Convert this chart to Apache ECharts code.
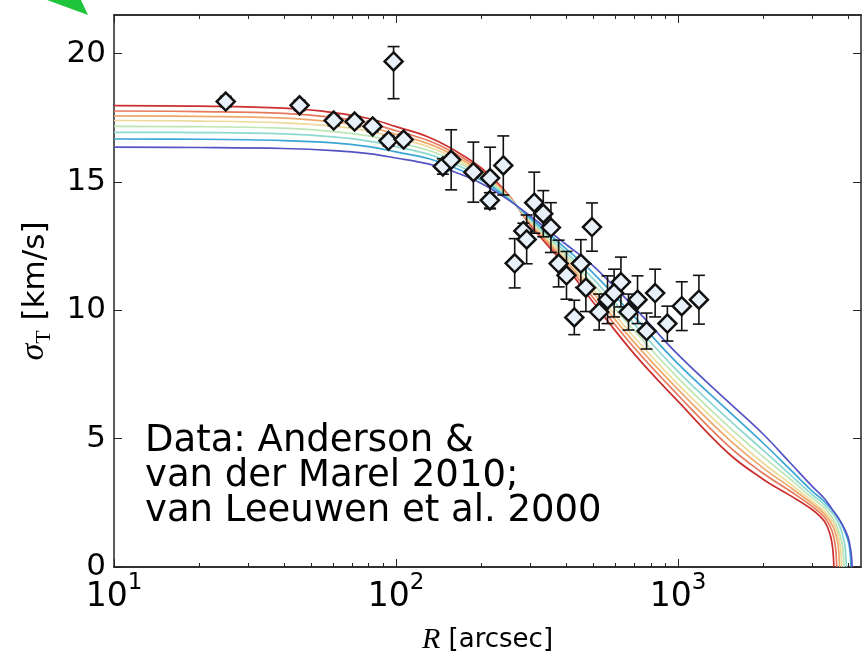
<!DOCTYPE html>
<html>
<head>
<meta charset="utf-8">
<script src="https://cdn.jsdelivr.net/npm/echarts@6/dist/echarts.min.js"></script>
<style>html,body{margin:0;padding:0;background:#fff;}#c{width:865px;height:661px;}</style>
</head>
<body>
<div id="c"></div>
<script>
// ---- tick values / labels ----
const xMin = 10, xMax = 4450;
const yMin = 0, yMax = 21.5;
const xTicks = [10, 100, 1000];
const xTickExp = ['1', '2', '3'];
const xMinorTicks = [20,30,40,50,60,70,80,90,200,300,400,500,600,700,800,900,2000,3000,4000];
const yTicks = [0, 5, 10, 15, 20];

// ---- data points ----
const ptR = [24.9, 45.5, 60.1, 71.3, 82.6, 94, 106.4, 98, 146.5, 156.8, 188, 215.5, 215, 240, 263.4, 282.6, 290.4, 309, 332.6, 354, 377, 402, 428.5, 452, 471, 495, 525, 562, 593, 627, 667, 718, 773, 829, 916, 1030, 1185];
const ptSigma = [18.13, 17.98, 17.39, 17.35, 17.16, 16.6, 16.65, 19.69, 15.6, 15.86, 15.38, 15.15, 14.28, 15.64, 11.83, 13.09, 12.76, 14.19, 13.76, 13.22, 11.82, 11.36, 9.72, 11.82, 10.88, 13.24, 9.93, 10.41, 10.67, 11.1, 9.93, 10.41, 9.19, 10.67, 9.48, 10.16, 10.41];
const ptErrDown = [0.2, 0.2, 0.2, 0.2, 0.2, 0.2, 0.2, 1.45, 0.3, 1.17, 1.17, 1.2, 0.3, 1.15, 0.96, 0.3, 0.95, 1.19, 0.9, 0.97, 0.91, 0.93, 0.67, 0.93, 0.93, 0.94, 0.7, 0.93, 0.93, 0.97, 0.7, 0.93, 0.7, 0.93, 0.68, 0.95, 0.95];
const ptErrUp = [0.2, 0.2, 0.2, 0.2, 0.2, 0.2, 0.2, 0.58, 0.3, 1.17, 1.17, 1.2, 0.3, 1.15, 0.96, 0.3, 0.95, 1.19, 0.9, 0.97, 0.91, 0.93, 0.67, 0.93, 0.93, 0.94, 0.7, 0.93, 0.93, 0.97, 0.7, 0.93, 0.7, 0.93, 0.68, 0.95, 0.95];

// ---- model curves (R, sigma) ----
const curveRed = [[10,17.97],[20,17.95],[40,17.87],[60,17.70],[80,17.47],[100,17.15],[130,16.75],[160,16.25],[200,15.55],[250,14.50],[300,13.30],[400,11.71],[500,10.31],[700,8.29],[1000,6.45],[1500,4.45],[2000,3.42],[2500,2.78],[3000,2.22],[3300,1.78],[3450,1.30],[3520,0.85],[3550,0.45],[3566,0]];
const curveSalmon = [[10,17.76],[20,17.74],[40,17.67],[60,17.51],[80,17.29],[100,16.99],[130,16.61],[160,16.14],[200,15.47],[250,14.47],[300,13.35],[400,11.82],[500,10.49],[700,8.53],[1000,6.69],[1500,4.74],[2000,3.65],[2500,2.95],[3000,2.34],[3300,1.94],[3500,1.45],[3600,0.90],[3635,0.45],[3650,0]];
const curveOrange = [[10,17.57],[20,17.55],[40,17.48],[60,17.33],[80,17.13],[100,16.85],[130,16.49],[160,16.04],[200,15.40],[250,14.45],[300,13.39],[400,11.93],[500,10.67],[700,8.74],[1000,6.91],[1500,5.01],[2000,3.86],[2500,3.10],[3000,2.45],[3300,2.07],[3550,1.55],[3680,0.95],[3720,0.45],[3736,0]];
const curveYellow = [[10,17.39],[20,17.37],[40,17.30],[60,17.17],[80,16.98],[100,16.71],[130,16.37],[160,15.94],[200,15.33],[250,14.43],[300,13.43],[400,12.02],[500,10.82],[700,8.94],[1000,7.11],[1500,5.24],[2000,4.05],[2500,3.24],[3000,2.54],[3300,2.17],[3600,1.60],[3740,0.95],[3785,0.45],[3800,0]];
const curveGreen = [[10,17.16],[20,17.15],[40,17.09],[60,16.96],[80,16.79],[100,16.54],[130,16.23],[160,15.83],[200,15.25],[250,14.40],[300,13.48],[400,12.14],[500,11.02],[700,9.20],[1000,7.36],[1500,5.50],[2000,4.30],[2500,3.42],[3000,2.67],[3300,2.30],[3600,1.75],[3800,1.00],[3855,0.45],[3870,0]];
const curveAqua = [[10,16.93],[20,16.92],[40,16.87],[60,16.75],[80,16.59],[100,16.37],[130,16.08],[160,15.71],[200,15.17],[250,14.37],[300,13.53],[400,12.26],[500,11.22],[700,9.45],[1000,7.61],[1500,5.78],[2000,4.55],[2500,3.59],[3000,2.80],[3300,2.43],[3650,1.85],[3870,1.05],[3930,0.45],[3950,0]];
const curveCyan = [[10,16.67],[20,16.66],[40,16.61],[60,16.52],[80,16.37],[100,16.17],[130,15.91],[160,15.57],[200,15.07],[250,14.34],[300,13.59],[400,12.40],[500,11.45],[700,9.74],[1000,7.91],[1500,6.10],[2000,4.83],[2500,3.79],[3000,2.94],[3300,2.55],[3700,1.90],[4000,1.05],[4080,0.45],[4100,0]];
const curvePurple = [[10,16.35],[20,16.34],[40,16.30],[60,16.22],[80,16.10],[100,15.93],[130,15.70],[160,15.40],[200,14.95],[250,14.30],[300,13.66],[400,12.57],[500,11.73],[700,10.10],[1000,8.27],[1500,6.45],[2000,5.18],[2500,4.05],[3000,3.12],[3300,2.67],[3500,2.28],[3800,1.70],[4000,1.18],[4100,0.60],[4140,0]];

const curves = [curveRed, curveSalmon, curveOrange, curveYellow, curveGreen, curveAqua, curveCyan, curvePurple];
const curveColors = ['#cc2f2f', '#e67a5e', '#efa86c', '#eed99a', '#bde6b4', '#8ed9cf', '#3ba6d6', '#5454c4'];

const chart = echarts.init(document.getElementById('c'), null, {renderer: 'canvas'});
const frame = '#262626';
const tickFont = 'DejaVu Sans';

function xAxisDef(pos, values, len, labels) {
  return {
    type: 'log', logBase: 10, min: xMin, max: xMax, position: pos, gridIndex: 0,
    axisLine: {show: true, onZero: false, lineStyle: {color: frame, width: 1.5}},
    axisTick: {show: true, inside: true, length: len, customValues: values, lineStyle: {color: frame, width: 1}},
    axisLabel: labels ? {
      show: true, customValues: xTicks, margin: 5,
      formatter: function (v) { const i = xTicks.indexOf(Math.round(v)); return '{b|10}{s|' + (i >= 0 ? xTickExp[i] : '') + '}'; },
      rich: {
        b: {fontFamily: tickFont, fontSize: 33, color: '#000', lineHeight: 42, verticalAlign: 'bottom'},
        s: {fontFamily: tickFont, fontSize: 23, color: '#000', lineHeight: 42, verticalAlign: 'top'}
      }
    } : {show: false},
    splitLine: {show: false}
  };
}
function yAxisDef(pos, labels) {
  return {
    type: 'value', min: yMin, max: yMax, position: pos,
    axisLine: {show: true, onZero: false, lineStyle: {color: frame, width: 1.5}},
    axisTick: {show: true, inside: true, length: 8, customValues: yTicks, lineStyle: {color: frame, width: 1}},
    axisLabel: labels ? {show: true, customValues: yTicks, margin: 8, fontFamily: tickFont, fontSize: 31, color: '#000'} : {show: false},
    splitLine: {show: false}
  };
}

const xA0 = xAxisDef('bottom', xTicks, 8, true);
xA0.name = '{it|R}{rm| [arcsec]}';
xA0.nameLocation = 'middle';
xA0.nameGap = 58;
xA0.nameTextStyle = {rich: {
  it: {fontFamily: 'Liberation Serif', fontStyle: 'italic', fontSize: 30, color: '#000'},
  rm: {fontFamily: tickFont, fontSize: 26, color: '#000'}
}};
const yA0 = yAxisDef('left', true);
yA0.name = '{it|σ}{sub|T}{rm| [km/s]}';
yA0.nameLocation = 'middle';
yA0.nameRotate = 90;
yA0.nameGap = 59;
yA0.nameTextStyle = {rich: {
  it: {fontFamily: 'Liberation Serif', fontStyle: 'italic', fontSize: 34, color: '#000', lineHeight: 38, verticalAlign: 'top'},
  sub: {fontFamily: 'Liberation Serif', fontSize: 22, color: '#000', lineHeight: 38, verticalAlign: 'bottom'},
  rm: {fontFamily: tickFont, fontSize: 31, color: '#000', lineHeight: 38}
}};

const series = [];
curves.forEach(function (c, i) {
  series.push({
    type: 'line', data: c, showSymbol: false, smooth: 0.4,
    lineStyle: {color: curveColors[i], width: 1.7}, z: 2, silent: true, clip: true
  });
});
series.push({
  type: 'custom', z: 3, silent: true,
  data: ptR.map(function (r, i) { return [r, ptSigma[i], ptErrUp[i], ptErrDown[i]]; }),
  renderItem: function (params, api) {
    const x = api.value(0), y = api.value(1), eu = api.value(2), ed = api.value(3);
    const p1 = api.coord([x, y + eu]);
    const p2 = api.coord([x, y - ed]);
    const cw = 6;
    const st = {stroke: '#111', lineWidth: 1.6};
    return {type: 'group', children: [
      {type: 'line', shape: {x1: p1[0], y1: p1[1], x2: p2[0], y2: p2[1]}, style: st},
      {type: 'line', shape: {x1: p1[0] - cw, y1: p1[1], x2: p1[0] + cw, y2: p1[1]}, style: st},
      {type: 'line', shape: {x1: p2[0] - cw, y1: p2[1], x2: p2[0] + cw, y2: p2[1]}, style: st}
    ]};
  }
});
series.push({
  type: 'scatter', z: 4, silent: true,
  data: ptR.map(function (r, i) { return [r, ptSigma[i]]; }),
  symbol: 'diamond', symbolSize: 18,
  itemStyle: {color: '#e8f0fa', borderColor: '#111', borderWidth: 2.5, opacity: 1}
});

chart.setOption({
  animation: false,
  backgroundColor: '#fff',
  grid: {left: 114, right: 4, top: 15, bottom: 94, containLabel: false},
  xAxis: [xA0, xAxisDef('bottom', xMinorTicks, 4, false), xAxisDef('top', xTicks, 8, false), xAxisDef('top', xMinorTicks, 4, false)],
  yAxis: [yA0, yAxisDef('right', false)],
  series: series,
  graphic: [
    {type: 'polygon', shape: {points: [[47, 0], [81, 0], [88, 15]]}, style: {fill: '#1ec43a'}, z: 10},
    {type: 'text', left: 145, top: 423, z: 10,
     style: {text: 'Data: Anderson &\nvan der Marel 2010;\nvan Leeuwen et al. 2000', font: '37px "DejaVu Sans"', lineHeight: 35, fill: '#000'}}
  ]
});
</script>
</body>
</html>
